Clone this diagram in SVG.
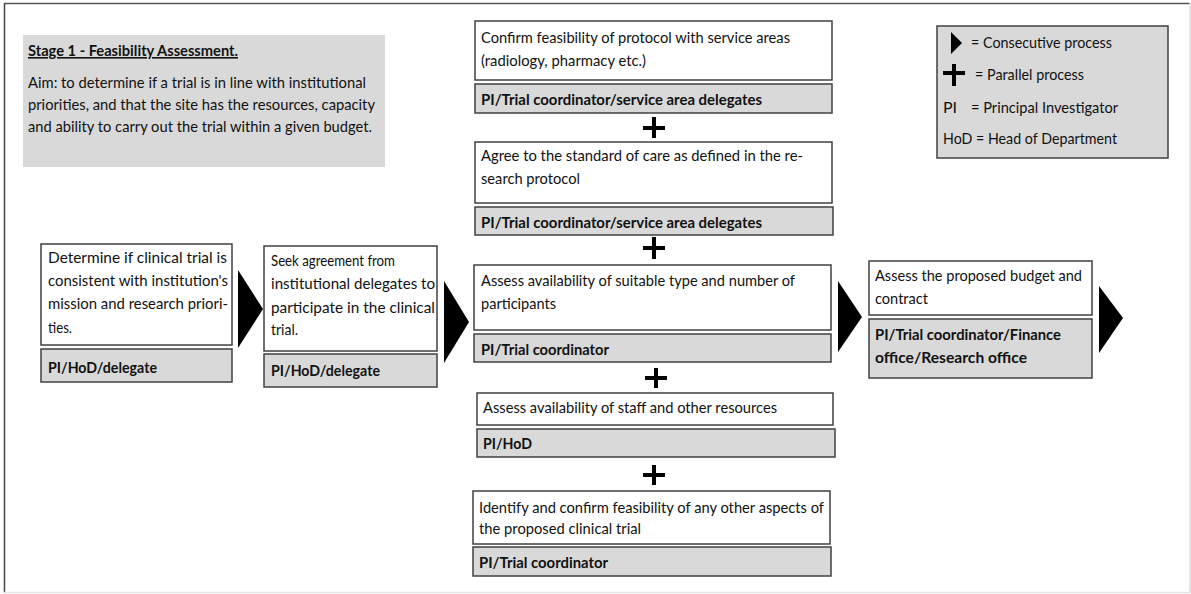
<svg xmlns="http://www.w3.org/2000/svg" width="1191" height="594" viewBox="0 0 1191 594">
<style>
text{font-family:Lato,"Noto Sans","Liberation Sans",sans-serif;font-size:16px;fill:#111111}
.b{font-weight:bold}
.w{fill:#ffffff;stroke:#404040;stroke-width:1.5}
.g{fill:#d9d9d9;stroke:#404040;stroke-width:1.5}
.arr{fill:#000000}
.plus{fill:#000000}
</style>
<rect x="0" y="0" width="1191" height="594" fill="#ffffff"/>
<g id="frame">
<line x1="4" y1="3.5" x2="1190" y2="3.5" stroke="#555" stroke-width="1.5"/>
<line x1="4.5" y1="3" x2="4.5" y2="593" stroke="#444" stroke-width="1.5"/>
<line x1="1190" y1="3" x2="1190" y2="593" stroke="#dddddd" stroke-width="1.5"/>
<line x1="4" y1="592.5" x2="1190" y2="592.5" stroke="#e6e6e6" stroke-width="1.5"/>
</g>
<g id="stage">
<rect x="23" y="35" width="362" height="132" fill="#d9d9d9"/>
<text x="28" y="56" class="b" text-decoration="underline" textLength="210" lengthAdjust="spacingAndGlyphs">Stage 1 - Feasibility Assessment.</text>
<text x="28" y="88" textLength="338" lengthAdjust="spacingAndGlyphs">Aim: to determine if a trial is in line with institutional</text>
<text x="28" y="110" textLength="347" lengthAdjust="spacingAndGlyphs">priorities, and that the site has the resources, capacity</text>
<text x="28" y="132" textLength="344" lengthAdjust="spacingAndGlyphs">and ability to carry out the trial within a given budget.</text>
</g>
<g id="legend">
<rect x="937" y="26" width="231" height="132" class="g"/>
<polygon points="951,32 962,43 951,54" class="arr"/>
<text x="971" y="48" textLength="141" lengthAdjust="spacingAndGlyphs">= Consecutive process</text>
<rect x="943" y="71" width="22" height="4" class="plus"/>
<rect x="952" y="64" width="4" height="22" class="plus"/>
<text x="975" y="80" textLength="109" lengthAdjust="spacingAndGlyphs">= Parallel process</text>
<text x="943" y="113">PI</text>
<text x="971" y="113" textLength="147" lengthAdjust="spacingAndGlyphs">= Principal Investigator</text>
<text x="943" y="144" textLength="174" lengthAdjust="spacingAndGlyphs">HoD = Head of Department</text>
</g>
<g id="node-determine">
<rect x="41" y="244" width="191" height="101" class="w"/>
<text x="48" y="263" textLength="179" lengthAdjust="spacingAndGlyphs">Determine if clinical trial is</text>
<text x="48" y="286" textLength="180" lengthAdjust="spacingAndGlyphs">consistent with institution's</text>
<text x="48" y="309" textLength="180" lengthAdjust="spacingAndGlyphs">mission and research priori-</text>
<text x="48" y="333" textLength="24" lengthAdjust="spacingAndGlyphs">ties.</text>
<rect x="41" y="349" width="191" height="33" class="g"/>
<text x="48" y="373" class="b" textLength="109" lengthAdjust="spacingAndGlyphs">PI/HoD/delegate</text>
</g>
<g id="node-seek">
<rect x="264" y="246" width="173" height="105" class="w"/>
<text x="271" y="266" textLength="124" lengthAdjust="spacingAndGlyphs">Seek agreement from</text>
<text x="271" y="289" textLength="164" lengthAdjust="spacingAndGlyphs">institutional delegates to</text>
<text x="271" y="313" textLength="164" lengthAdjust="spacingAndGlyphs">participate in the clinical</text>
<text x="271" y="335" textLength="27" lengthAdjust="spacingAndGlyphs">trial.</text>
<rect x="264" y="354" width="173" height="33" class="g"/>
<text x="271" y="376" class="b" textLength="109" lengthAdjust="spacingAndGlyphs">PI/HoD/delegate</text>
</g>
<g id="node-service">
<rect x="475" y="21" width="357" height="59" class="w"/>
<text x="481" y="43" textLength="309" lengthAdjust="spacingAndGlyphs">Confirm feasibility of protocol with service areas</text>
<text x="481" y="66" textLength="165" lengthAdjust="spacingAndGlyphs">(radiology, pharmacy etc.)</text>
<rect x="475" y="84" width="357" height="29" class="g"/>
<text x="481" y="105" class="b" textLength="281" lengthAdjust="spacingAndGlyphs">PI/Trial coordinator/service area delegates</text>
</g>
<g id="node-care">
<rect x="475" y="142" width="357" height="61" class="w"/>
<text x="481" y="161" textLength="322" lengthAdjust="spacingAndGlyphs">Agree to the standard of care as defined in the re-</text>
<text x="481" y="184" textLength="99" lengthAdjust="spacingAndGlyphs">search protocol</text>
<rect x="475" y="207" width="358" height="28" class="g"/>
<text x="481" y="228" class="b" textLength="281" lengthAdjust="spacingAndGlyphs">PI/Trial coordinator/service area delegates</text>
</g>
<g id="node-participants">
<rect x="474" y="265" width="357" height="65" class="w"/>
<text x="481" y="286" textLength="314" lengthAdjust="spacingAndGlyphs">Assess availability of suitable type and number of</text>
<text x="481" y="309" textLength="75" lengthAdjust="spacingAndGlyphs">participants</text>
<rect x="474" y="334" width="357" height="28" class="g"/>
<text x="481" y="355" class="b" textLength="128" lengthAdjust="spacingAndGlyphs">PI/Trial coordinator</text>
</g>
<g id="node-staff">
<rect x="477" y="393" width="356" height="32" class="w"/>
<text x="483" y="413" textLength="294" lengthAdjust="spacingAndGlyphs">Assess availability of staff and other resources</text>
<rect x="477" y="429" width="358" height="28" class="g"/>
<text x="483" y="449" class="b" textLength="49" lengthAdjust="spacingAndGlyphs">PI/HoD</text>
</g>
<g id="node-other">
<rect x="473" y="491" width="357" height="53" class="w"/>
<text x="479" y="513" textLength="345" lengthAdjust="spacingAndGlyphs">Identify and confirm feasibility of any other aspects of</text>
<text x="479" y="534" textLength="162" lengthAdjust="spacingAndGlyphs">the proposed clinical trial</text>
<rect x="473" y="547" width="358" height="29" class="g"/>
<text x="479" y="568" class="b" textLength="129" lengthAdjust="spacingAndGlyphs">PI/Trial coordinator</text>
</g>
<g id="node-budget">
<rect x="869" y="261" width="223" height="54" class="w"/>
<text x="875" y="281" textLength="207" lengthAdjust="spacingAndGlyphs">Assess the proposed budget and</text>
<text x="875" y="304" textLength="53" lengthAdjust="spacingAndGlyphs">contract</text>
<rect x="869" y="319" width="223" height="59" class="g"/>
<text x="875" y="340" class="b" textLength="186" lengthAdjust="spacingAndGlyphs">PI/Trial coordinator/Finance</text>
<text x="875" y="363" class="b" textLength="152" lengthAdjust="spacingAndGlyphs">office/Research office</text>
</g>
<g id="connectors">
<polygon points="238,270 263,309 238,348" class="arr"/>
<polygon points="444,281 469,322 444,363" class="arr"/>
<polygon points="838,281 862,317 838,352" class="arr"/>
<polygon points="1099,286 1123,318 1099,353" class="arr"/>
<rect x="643" y="126" width="22" height="4" class="plus"/>
<rect x="652" y="117" width="4" height="21" class="plus"/>
<rect x="643" y="246" width="22" height="4" class="plus"/>
<rect x="652" y="237" width="4" height="22" class="plus"/>
<rect x="645" y="376" width="22" height="4" class="plus"/>
<rect x="654" y="368" width="4" height="20" class="plus"/>
<rect x="643" y="473" width="22" height="4" class="plus"/>
<rect x="652" y="465" width="4" height="20" class="plus"/>
</g>
</svg>
